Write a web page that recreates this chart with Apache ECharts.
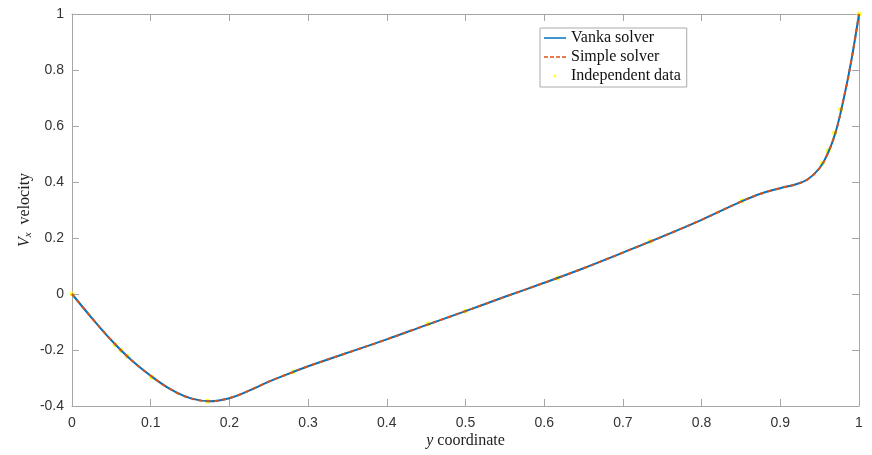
<!DOCTYPE html>
<html><head><meta charset="utf-8">
<script src="https://cdn.jsdelivr.net/npm/echarts@6/dist/echarts.min.js"></script>
<style>html,body{margin:0;padding:0;background:#fff}#c{width:872px;height:455px}</style>
</head><body><div id="c"></div>
<script>
// Solver profiles
const curveY = [0, 0.025, 0.05, 0.075, 0.1, 0.125, 0.15, 0.175, 0.2, 0.225, 0.25, 0.2813, 0.3, 0.35, 0.4, 0.45, 0.5, 0.55, 0.6, 0.65, 0.7, 0.75, 0.8, 0.85, 0.875, 0.9, 0.92, 0.935, 0.95, 0.96, 0.97, 0.98, 0.99, 1.0];
const vankaVx = [0, -0.085, -0.165, -0.235, -0.292, -0.34, -0.372, -0.383, -0.372, -0.345, -0.313, -0.278, -0.258, -0.21, -0.162, -0.111, -0.061, -0.01, 0.04, 0.092, 0.148, 0.205, 0.265, 0.33, 0.358, 0.378, 0.392, 0.41, 0.45, 0.5, 0.575, 0.69, 0.83, 1.0];
const simpleVx = [0, -0.085, -0.165, -0.235, -0.292, -0.34, -0.372, -0.383, -0.372, -0.345, -0.313, -0.278, -0.258, -0.21, -0.162, -0.111, -0.061, -0.01, 0.04, 0.092, 0.148, 0.205, 0.265, 0.33, 0.358, 0.378, 0.392, 0.41, 0.45, 0.5, 0.575, 0.69, 0.83, 1.0];
// Independent data points
const refY = [0, 0.0547, 0.0625, 0.0703, 0.1016, 0.1719, 0.2813, 0.4531, 0.5, 0.6172, 0.7344, 0.8516, 0.9531, 0.9609, 0.9688, 0.9766, 1.0];
const refVx = [0, -0.18109, -0.20196, -0.2222, -0.2973, -0.38289, -0.27805, -0.10648, -0.0608, 0.05702, 0.18719, 0.33304, 0.46604, 0.51117, 0.57492, 0.65928, 1.0];
const xTicks = [0, 0.1, 0.2, 0.3, 0.4, 0.5, 0.6, 0.7, 0.8, 0.9, 1];
const yTicks = [-0.4, -0.2, 0, 0.2, 0.4, 0.6, 0.8, 1];

const axisCol = '#a6a6a6';
const lblStyle = {color: '#333', fontFamily: 'Liberation Sans, Arial, sans-serif', fontSize: 14};
const zip = (a, b) => a.map((v, i) => [v, b[i]]);
const fmt = v => String(Math.round(v * 10) / 10);
const serif = 'Liberation Serif, Times New Roman, serif';

const chart = echarts.init(document.getElementById('c'));
chart.setOption({
  animation: false,
  grid: {left: 72, right: 13, top: 14, bottom: 49},
  legend: {
    orient: 'vertical', left: 540, top: 28,
    backgroundColor: '#fff', borderColor: '#aaa', borderWidth: 1,
    padding: [2, 6, 3, 4], itemGap: 3, itemWidth: 22, itemHeight: 3,
    symbolKeepAspect: true,
    textStyle: {fontFamily: serif, fontSize: 16, color: '#111', padding: [0, 0, 0, 0]},
    data: [
      {name: 'Vanka solver', icon: 'path://M0,0h44v3h-44z'},
      {name: 'Simple solver', icon: 'path://M0,0h8v3h-8z M12,0h8v3h-8z M24,0h8v3h-8z M36,0h8v3h-8z'},
      {name: 'Independent data', icon: 'circle'}
    ]
  },
  xAxis: [{
    type: 'value', min: 0, max: 1, interval: 0.1, position: 'bottom',
    name: '{i|y} coordinate', nameLocation: 'middle', nameGap: 27, nameMoveOverlap: false,
    nameTextStyle: {fontFamily: serif, fontSize: 16, color: '#222',
      rich: {i: {fontStyle: 'italic', fontFamily: serif, fontSize: 16, color: '#222'}}},
    axisLine: {show: true, onZero: false, lineStyle: {color: axisCol, width: 1}},
    axisTick: {show: true, inside: true, length: 7, lineStyle: {color: axisCol}},
    axisLabel: Object.assign({margin: 10, formatter: fmt}, lblStyle),
    splitLine: {show: false}
  }, {
    type: 'value', min: 0, max: 1, interval: 0.1, position: 'top',
    axisLine: {show: true, onZero: false, lineStyle: {color: axisCol, width: 1}},
    axisTick: {show: true, inside: true, length: 7, lineStyle: {color: axisCol}},
    axisLabel: {show: false}, splitLine: {show: false}
  }],
  yAxis: [{
    type: 'value', min: -0.4, max: 1, interval: 0.2, position: 'left',
    name: '{i|V}{s|x}  velocity', nameLocation: 'middle', nameGap: 38, nameMoveOverlap: false,
    nameTextStyle: {fontFamily: serif, fontSize: 16, color: '#222',
      rich: {
        i: {fontStyle: 'italic', fontFamily: serif, fontSize: 16, color: '#222'},
        s: {fontStyle: 'italic', fontFamily: serif, fontSize: 11, color: '#222', padding: [8, 0, 0, 0]}
      }},
    axisLine: {show: true, onZero: false, lineStyle: {color: axisCol, width: 1}},
    axisTick: {show: true, inside: true, length: 7, lineStyle: {color: axisCol}},
    axisLabel: Object.assign({margin: 8, formatter: fmt}, lblStyle),
    splitLine: {show: false}
  }, {
    type: 'value', min: -0.4, max: 1, interval: 0.2, position: 'right',
    axisLine: {show: true, onZero: false, lineStyle: {color: axisCol, width: 1}},
    axisTick: {show: true, inside: true, length: 7, lineStyle: {color: axisCol}},
    axisLabel: {show: false}, splitLine: {show: false}
  }],
  series: [{
    name: 'Vanka solver', type: 'line', data: zip(curveY, vankaVx), smooth: 0.4,
    showSymbol: false, symbol: 'none', color: '#0072BD',
    lineStyle: {color: '#0072BD', width: 2}
  }, {
    name: 'Simple solver', type: 'line', data: zip(curveY, simpleVx), smooth: 0.4,
    showSymbol: false, symbol: 'none', color: '#D95319',
    lineStyle: {color: '#D95319', width: 2, type: [4, 4]}
  }, {
    name: 'Independent data', type: 'scatter', data: zip(refY, refVx),
    symbol: 'circle', symbolSize: 5, color: '#FFFF00',
    itemStyle: {color: '#FFFF00'}
  }]
});
</script></body></html>
